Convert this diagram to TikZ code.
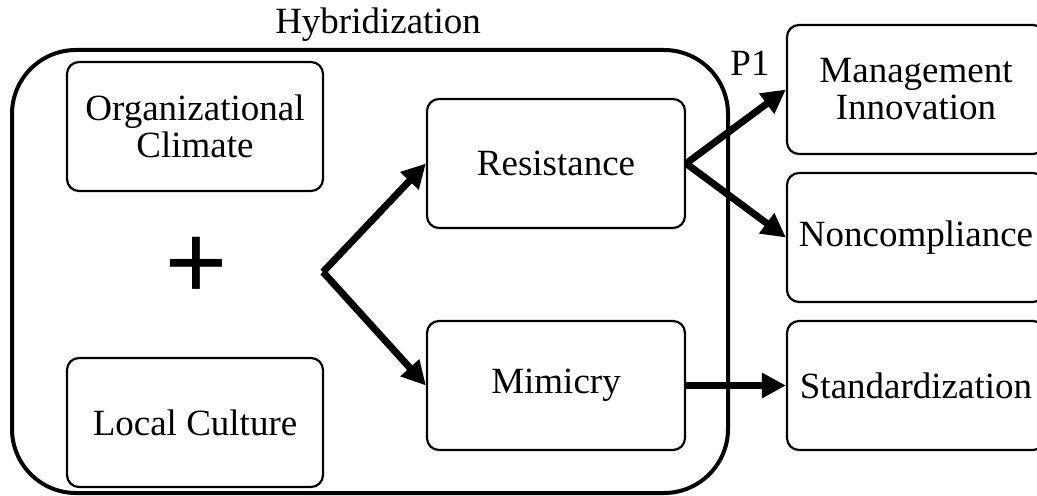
\documentclass[tikz,border=0pt]{standalone}
\usepackage{fontspec}
\setmainfont{Liberation Serif}
\usetikzlibrary{arrows.meta}

\begin{document}
\begin{tikzpicture}[x=0.5pt,y=-0.5pt,
  box/.style={draw,line width=1.1pt,rounded corners=6pt,align=center,
    minimum width=129pt,minimum height=64.5pt,inner sep=1pt,
    font=\fontsize{18.5}{18.5}\selectfont},
  flow/.style={line width=3.5pt,-{Triangle[length=12pt,width=12pt]}}]
\clip (0,0) rectangle (1037,496);
\node[draw,line width=2pt,rounded corners=32pt,minimum width=358pt,
  minimum height=221.5pt] (hyb) at (370,271.5) {};
\node[font=\fontsize{18.5}{18.5}\selectfont,anchor=south,inner sep=3pt]
  at ([xshift=4pt]hyb.north) {Hybridization};
\node[box,minimum width=128pt] (clim) at (195,126.5) {Organizational\\Climate};
\node[box,minimum width=128pt] (loc) at (195,422.5) {Local Culture};
\node[font=\fontsize{56}{56}\selectfont\bfseries,inner sep=0pt] (plus) at (196,269) {+};
\node[box] (res) at (556,163.5) {Resistance};
\node[box] (mim) at (556,385.5) {Mimicry};
\node[box] (mgmt) at (916,89.5) {Management\\Innovation};
\node[box] (non) at (916,237.5) {Noncompliance};
\node[box] (std) at (916,385.5) {Standardization};
\node[font=\fontsize{18.5}{18.5}\selectfont] (p1) at (750,63) {P1};
\coordinate (fork) at (323,272);
\foreach \b in {res,mim}
  \draw[flow] (fork) -- (\b.west);
\draw[flow] (res.east) -- (mgmt.west);
\draw[flow] (res.east) -- (non.west);
\draw[flow] (mim.east) -- (std.west);
\end{tikzpicture}
\end{document}
